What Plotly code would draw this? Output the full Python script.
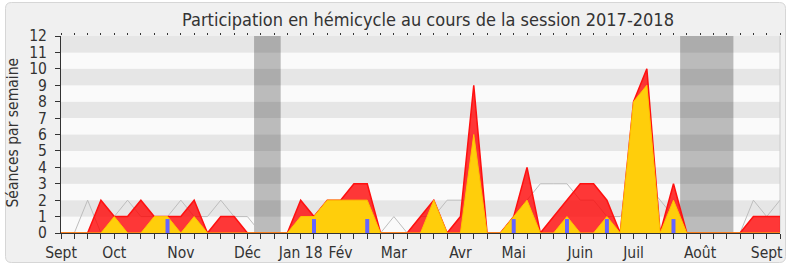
import plotly.graph_objects as go

# ---------------- data ----------------
semaines = list(range(55))
presence = [0, 0, 0, 2, 1, 1, 2, 1, 1, 1, 2, 0, 1, 1, 0, 0, 0, 0, 2, 1,
            2, 2, 3, 3, 0, 0, 0, 1, 2, 0, 1, 9, 0, 0, 1, 4, 0, 1, 2, 3,
            3, 2, 0, 8, 10, 0, 3, 0, 0, 0, 0, 0, 1, 1, 1]
interventions = [0, 0, 0, 0, 1, 0, 0, 1, 1, 0, 1, 0, 0, 0, 0, 0, 0, 0, 1, 1,
                 2, 2, 2, 2, 0, 0, 0, 0, 2, 0, 0, 6, 0, 0, 1, 2, 0, 0, 1, 0,
                 0, 1, 0, 8, 9, 0, 2, 0, 0, 0, 0, 0, 0, 0, 0]
mediane = [0, 0, 2, 0, 1, 2, 1, 1, 1, 2, 1, 1, 2, 1, 1, 0, 0, 0, 1, 1,
           1, 1, 2, 1, 0, 1, 0, 1, 1, 2, 2, 2, 0, 0, 1, 2, 3, 3, 3, 2,
           2, 1, 1, 2, 3, 2, 1, 0, 0, 0, 0, 0, 2, 1, 2]
questions_semaines = [8, 19, 23, 34, 38, 41, 46]
questions_hauteur = [0.85, 0.85, 0.85, 0.85, 0.85, 0.85, 0.85]
vacances_debut = [14.5, 46.5]
vacances_fin = [16.5, 50.5]
mois_labels = ["Sept", "Oct", "Nov", "Déc", "Jan 18", "Fév", "Mar", "Avr",
               "Mai", "Juin", "Juil", "Août", "Sept"]
mois_semaines = [0, 4, 9, 14, 18, 21, 25, 30, 34, 39, 43, 48, 53]
y_ticks = list(range(13))

titre = "Participation en hémicycle au cours de la session 2017-2018"
titre_y = "Séances par semaine"

# ---------------- layout helpers ----------------
W, H = 790, 267
L, R, T, B = 61, 10, 36, 34
PW, PH = W - L - R, H - T - B
FONT = "DejaVu Sans Condensed, DejaVu Sans, sans-serif"


def px(x):
    return (x - L) / PW


def py(y):
    return (H - B - y) / PH


def rounded_rect(x0, y0, x1, y1, r):
    pts = [
        ("M", [(x0 + r, y0)]), ("L", [(x1 - r, y0)]), ("Q", [(x1, y0), (x1, y0 + r)]),
        ("L", [(x1, y1 - r)]), ("Q", [(x1, y1), (x1 - r, y1)]),
        ("L", [(x0 + r, y1)]), ("Q", [(x0, y1), (x0, y1 - r)]),
        ("L", [(x0, y0 + r)]), ("Q", [(x0, y0), (x0 + r, y0)]),
    ]
    s = ""
    for cmd, ps in pts:
        s += cmd + " " + " ".join(f"{px(a):.5f},{py(b):.5f}" for a, b in ps) + " "
    return s + "Z"


ticktext = []
for w in semaines:
    ticktext.append(mois_labels[mois_semaines.index(w)] if w in mois_semaines else "")

shapes = [dict(type="path", xref="paper", yref="paper",
               path=rounded_rect(5.5, 2.5, 785.5, 262.5, 6),
               fillcolor="#f0f0f0", line=dict(color="#d6d6d6", width=1), layer="below")]
for k in range(12):
    shapes.append(dict(type="rect", xref="paper", yref="y", x0=0, x1=1, y0=k, y1=k + 1,
                       fillcolor="#e6e6e6" if k % 2 == 1 else "#fafafa",
                       line=dict(width=0), layer="below"))
for a, b in zip(vacances_debut, vacances_fin):
    shapes.append(dict(type="rect", xref="x", yref="paper", x0=a, x1=b, y0=0, y1=1,
                       fillcolor="rgba(0,0,0,0.25)", line=dict(width=0), layer="below"))
shapes.append(dict(type="line", xref="paper", yref="paper", x0=1, x1=1, y0=0, y1=1,
                   line=dict(color="#cccccc", width=1), layer="below"))

fig = go.Figure()
fig.add_trace(go.Scatter(x=semaines, y=mediane, mode="lines",
                         line=dict(color="#bdbdbd", width=1), hoverinfo="skip"))
fig.add_trace(go.Scatter(x=semaines, y=presence, mode="lines", fill="tozeroy",
                         fillcolor="rgba(255,0,0,0.78)",
                         line=dict(color="#ff1010", width=1.5), hoverinfo="skip"))
fig.add_trace(go.Scatter(x=semaines, y=interventions, mode="lines", fill="tozeroy",
                         fillcolor="rgba(255,212,10,0.97)",
                         line=dict(color="#ffc400", width=1), hoverinfo="skip"))
fig.add_trace(go.Bar(x=questions_semaines, y=questions_hauteur, width=0.3,
                     marker=dict(color="#6464ff", line=dict(width=0)),
                     xaxis="x2", yaxis="y2", hoverinfo="skip"))

fig.update_layout(
    width=W, height=H,
    margin=dict(l=L, r=R, t=T, b=B, pad=0, autoexpand=False),
    paper_bgcolor="white", plot_bgcolor="#fafafa",
    showlegend=False, hovermode=False,
    font=dict(family=FONT, color="#333333"),
    shapes=shapes,
    xaxis=dict(range=[0, 54], tickmode="array", tickvals=semaines, ticktext=ticktext,
               ticks="outside", ticklen=5, tickcolor="#333333", tickangle=0,
               showline=True, linecolor="#333333", linewidth=1, automargin=False,
               showgrid=False, zeroline=False, layer="above traces",
               tickfont=dict(family=FONT, size=15.5, color="#333333")),
    xaxis2=dict(range=[0, 54], overlaying="x", side="top", anchor="y",
                tickmode="array", tickvals=semaines, showticklabels=False,
                ticks="outside", ticklen=2, tickcolor="#333333", automargin=False,
                showline=False, showgrid=False, zeroline=False),
    yaxis=dict(range=[0, 12], tickmode="array", tickvals=y_ticks,
               ticks="outside", ticklen=5, tickcolor="#333333",
               showline=True, linecolor="#333333", linewidth=1, automargin=False,
               showgrid=False, zeroline=False, ticklabelstandoff=5,
               layer="above traces",
               tickfont=dict(family=FONT, size=15.5, color="#333333")),
    yaxis2=dict(range=[0, 12], overlaying="y", anchor="x", visible=False,
                automargin=False),
    annotations=[
        dict(text=titre, xref="paper", yref="paper", x=px(428), y=py(20),
             xanchor="center", yanchor="middle", showarrow=False,
             font=dict(family=FONT, size=18, color="#333333")),
        dict(text=titre_y, xref="paper", yref="paper", x=px(12.5), y=py(133),
             xanchor="center", yanchor="middle", textangle=-90, showarrow=False,
             font=dict(family=FONT, size=15.5, color="#333333")),
    ],
)

fig.write_html("out.html")
